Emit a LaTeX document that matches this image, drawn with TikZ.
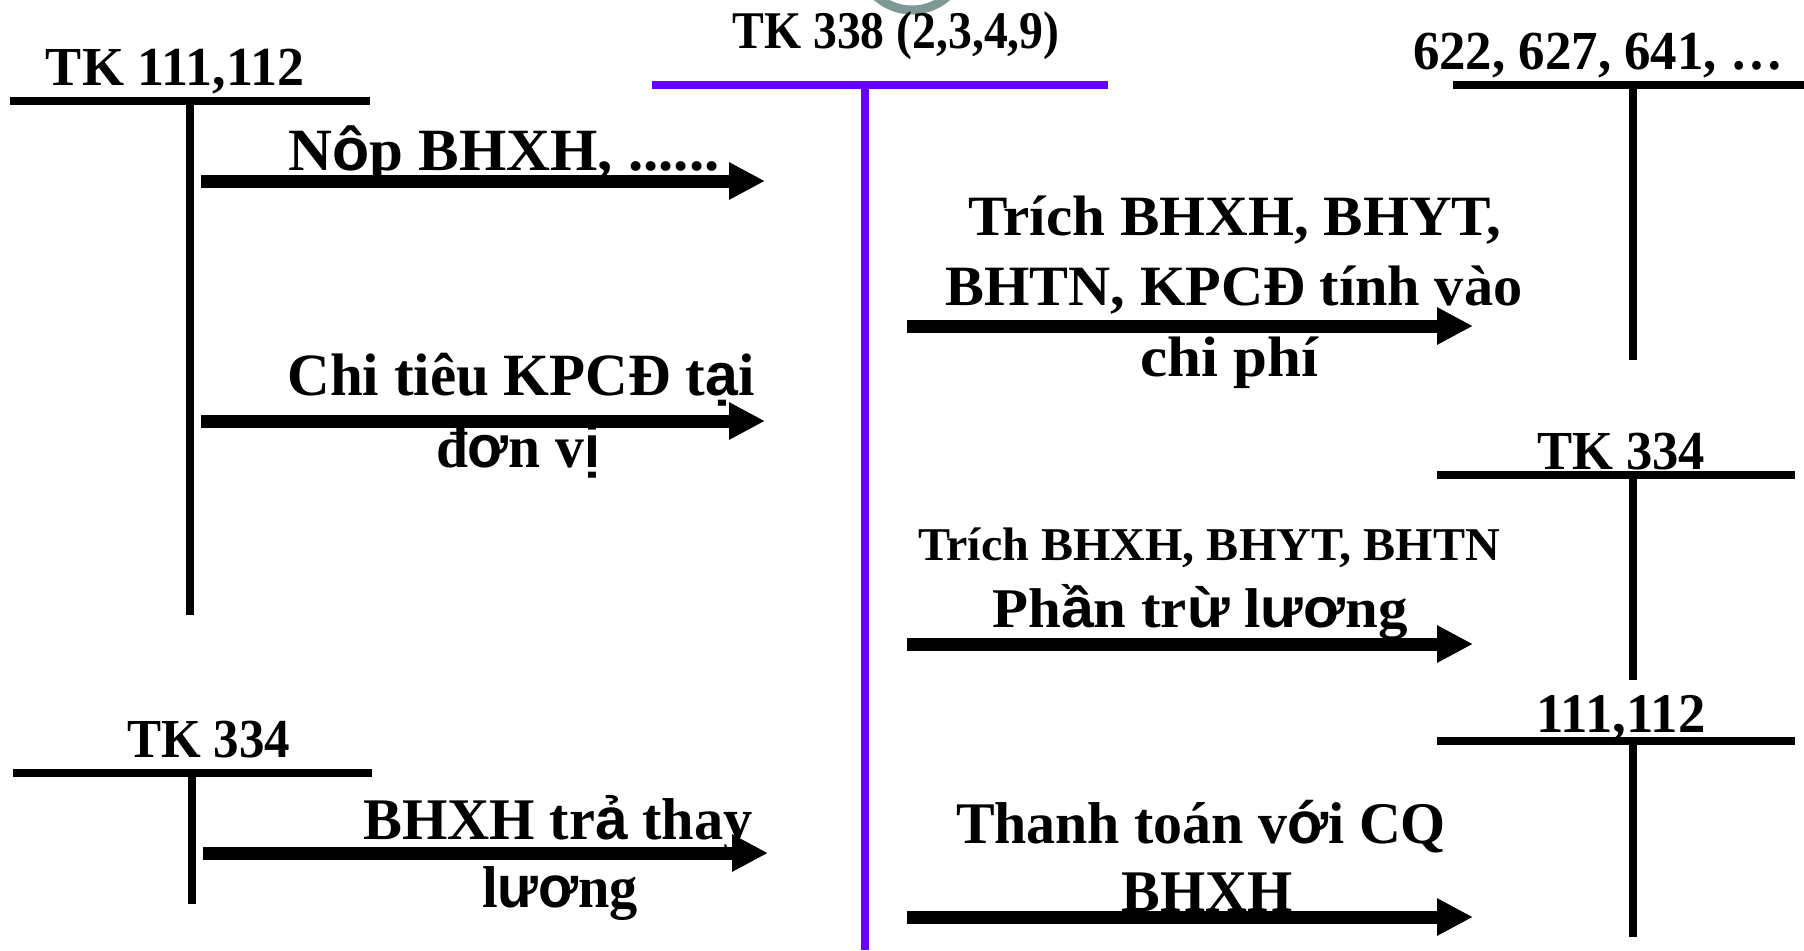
\documentclass[tikz,border=0pt]{standalone}
\usepackage{fontspec}
\usepackage{graphicx}
\setmainfont{Liberation Serif}
\newfontfamily\fb{Liberation Sans}
\usetikzlibrary{arrows.meta}
\definecolor{tpurple}{RGB}{102,0,255}
\definecolor{ringgray}{RGB}{126,152,150}
\newsavebox\lblbox
\newcommand\fitlbl[3]{%
  \pgfmathsetmacro\fsz{#1*0.5}%
  \sbox\lblbox{\fontsize{\fsz pt}{\fsz pt}\selectfont\bfseries #3}%
  \edef\wdt{\the\wd\lblbox}%
  \pgfmathsetmacro\sxf{#2*0.5/\wdt}%
  \scalebox{\sxf}[1]{\usebox\lblbox}}
\begin{document}
\begin{tikzpicture}[x=0.5pt,y=-0.5pt,
  tline/.style={line width=4pt, line cap=butt, black},
  pline/.style={line width=4pt, line cap=butt, tpurple},
  arr/.style={line width=6.5pt, line cap=butt, -{Triangle[length=18pt,width=17.5pt]}},
  lbl/.style={anchor=base, inner sep=0pt, outer sep=0pt},
  ring/.style={line width=4.5pt, ringgray}]
\path[use as bounding box, fill=white] (0,0) rectangle (1804,950);
\begin{scope}
  \clip (0,0) rectangle (1804,950);
  \draw[ring] (912,-43) circle[radius=53];
\end{scope}

% T accounts
\draw[pline] (652,85) -- (1108,85);
\draw[pline] (865,85) -- (865,950);
\draw[tline] (10,101) -- (370,101);
\draw[tline] (190,101) -- (190,615);
\draw[tline] (13,773) -- (372,773);
\draw[tline] (192,773) -- (192,904);
\draw[tline] (1453,85) -- (1804,85);
\draw[tline] (1633,85) -- (1633,360);
\draw[tline] (1437,475) -- (1795,475);
\draw[tline] (1633,475) -- (1633,680);
\draw[tline] (1437,741) -- (1795,741);
\draw[tline] (1633,741) -- (1633,937);

% account titles
\node[lbl] (t338) at (896,48) {\fitlbl{53}{327}{TK 338 (2,3,4,9)}};
\node[lbl] (t111) at (175,85) {\fitlbl{55}{258}{TK 111,112}};
\node[lbl] (t622) at (1598,69) {\fitlbl{55}{370}{622, 627, 641, …}};
\node[lbl] (t334r) at (1621,469) {\fitlbl{55}{168}{TK 334}};
\node[lbl] (t111r) at (1621,732) {\fitlbl{56}{169}{111,112}};
\node[lbl] (t334l) at (209,757) {\fitlbl{55}{163}{TK 334}};

% arrows
\coordinate (a1s) at (201,181); \coordinate (a1e) at (765,181);
\coordinate (a3s) at (201,421); \coordinate (a3e) at (765,421);
\coordinate (a6s) at (203,853); \coordinate (a6e) at (768,853);
\coordinate (a2s) at (907,326); \coordinate (a2e) at (1473,326);
\coordinate (a4s) at (907,644); \coordinate (a4e) at (1473,644);
\coordinate (a5s) at (907,917); \coordinate (a5e) at (1473,917);
\draw[arr] (a1s) -- (a1e);
\draw[arr] (a3s) -- (a3e);
\draw[arr] (a6s) -- (a6e);
\draw[arr] (a2s) -- (a2e);
\draw[arr] (a4s) -- (a4e);
\draw[arr] (a5s) -- (a5e);

% arrow labels
\node[lbl] (tnop) at (504,170) {\fitlbl{60}{431}{N{\fb ô}p BHXH, ......}};
\node[lbl] (tchi1) at (521,395) {\fitlbl{60}{467}{Chi tiêu KPCĐ t{\fb ạ}i}};
\node[lbl] (tchi2) at (518,467) {\fitlbl{60}{164}{đ{\fb ơ}n v{\fb ị}}};
\node[lbl] (ttr1) at (1235,235) {\fitlbl{57}{533}{Trích BHXH, BHYT,}};
\node[lbl] (ttr2) at (1234,305) {\fitlbl{57}{577}{BHTN, KPCĐ tính vào}};
\node[lbl] (ttr3) at (1229,376) {\fitlbl{57}{178}{chi phí}};
\node[lbl] (tsm) at (1209,560) {\fitlbl{47}{582}{Trích BHXH, BHYT, BHTN}};
\node[lbl] (tph) at (1200,627) {\fitlbl{56}{415}{Ph{\fb ầ}n tr{\fb ừ} l{\fb ươ}ng}};
\node[lbl] (tbh1) at (558,839) {\fitlbl{59}{389}{BHXH tr{\fb ả} thay}};
\node[lbl] (tbh2) at (560,907) {\fitlbl{59}{156}{l{\fb ươ}ng}};
\node[lbl] (tth1) at (1201,843) {\fitlbl{59}{490}{Thanh toán v{\fb ớ}i CQ}};
\node[lbl] (tth2) at (1207,911) {\fitlbl{59}{171}{BHXH}};
\end{tikzpicture}
\end{document}
